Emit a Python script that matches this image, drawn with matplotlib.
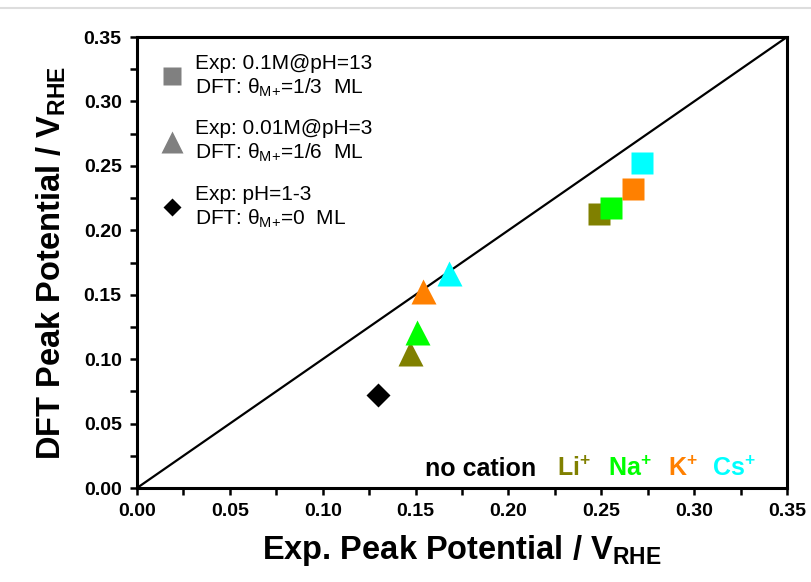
import matplotlib
matplotlib.use("Agg")
import matplotlib.pyplot as plt
from matplotlib.lines import Line2D

plt.rcParams["font.family"] = ["Liberation Sans", "DejaVu Sans"]
plt.rcParams["mathtext.fontset"] = "custom"
plt.rcParams["mathtext.rm"] = "Liberation Sans"
plt.rcParams["mathtext.bf"] = "Liberation Sans:bold"
plt.rcParams["mathtext.it"] = "Liberation Sans:italic"

# data
cations = ["Li", "Na", "K", "Cs"]
cation_colors = ["#808000", "#00ff00", "#ff8000", "#00ffff"]
sq_exp = [0.249, 0.255, 0.267, 0.272]   # 0.1M @ pH=13, theta=1/3 ML
sq_dft = [0.213, 0.217, 0.232, 0.252]
tri_exp = [0.147, 0.151, 0.154, 0.168]  # 0.01M @ pH=3, theta=1/6 ML
tri_dft = [0.105, 0.121, 0.153, 0.167]
none_exp = [0.130]                      # no cation, pH=1-3
none_dft = [0.072]

fig = plt.figure(figsize=(8.12, 5.82), dpi=100)
ax = fig.add_axes([0.1687, 0.1615, 0.8005, 0.7749])

ax.plot([0, 0.35], [0, 0.35], color="black", lw=1.6, zorder=1)

for x, y, c in zip(sq_exp, sq_dft, cation_colors):
    ax.plot(x, y, "s", ms=16, color=c, mec="none", zorder=3)
for x, y, c in zip(tri_exp, tri_dft, cation_colors):
    ax.plot(x, y, "^", ms=18, color=c, mec="none", zorder=3)
ax.plot(none_exp, none_dft, "D", ms=12, color="black", mec="none", zorder=3)

ax.set_xlim(0, 0.35); ax.set_ylim(0, 0.35)
ax.set_xticks([i * 0.05 for i in range(8)])
ax.set_yticks([i * 0.05 for i in range(8)])
ax.set_xticks([0.025 + i * 0.05 for i in range(7)], minor=True)
ax.set_yticks([0.025 + i * 0.05 for i in range(7)], minor=True)
ax.xaxis.set_major_formatter(lambda v, p: f"{v:.2f}")
ax.yaxis.set_major_formatter(lambda v, p: f"{v:.2f}")
ax.tick_params(which="both", direction="out", width=1.8, length=5)
ax.tick_params(which="major", labelsize=14, pad=6)
for lab in ax.get_xticklabels() + ax.get_yticklabels():
    lab.set_fontweight("bold")
for s in ax.spines.values():
    s.set_linewidth(2.2)

ax.set_xlabel(r"Exp. Peak Potential / V$_{\mathbf{RHE}}$", fontsize=23.5,
              fontweight="bold", labelpad=9)
ax.set_ylabel(r"DFT Peak Potential / V$_{\mathbf{RHE}}$", fontsize=23.5,
              fontweight="bold", labelpad=11)

handles = [
    Line2D([], [], ls="none", marker="s", ms=13, color="#808080", mec="none"),
    Line2D([], [], ls="none", marker="^", ms=16, color="#808080", mec="none"),
    Line2D([], [], ls="none", marker="D", ms=9, color="black", mec="none"),
]
labels = [
    "Exp: 0.1M@pH=13\nDFT: θ$_{\\mathregular{M{+}}}$=1/3  ML",
    "Exp: 0.01M@pH=3\nDFT: θ$_{\\mathregular{M{+}}}$=1/6  ML",
    "Exp: pH=1-3\nDFT: θ$_{\\mathregular{M{+}}}$=0  ML",
]
ax.legend(handles, labels, loc="upper left", frameon=False, fontsize=15,
          handlelength=1.0, handletextpad=0.6, labelspacing=1.0,
          borderaxespad=0.3, bbox_to_anchor=(0.015, 0.995))

ax.text(0.443, 0.027, "no cation", transform=ax.transAxes, fontsize=18,
        fontweight="bold", color="black")
for name, c, xp in zip(cations, cation_colors, [0.646, 0.725, 0.817, 0.885]):
    ax.text(xp, 0.027, name + r"$^{\mathbf{+}}$", transform=ax.transAxes,
            fontsize=18, fontweight="bold", color=c)

fig.add_artist(Line2D([0, 1], [0.986, 0.986], color="#dddddd", lw=1.5,
                      transform=fig.transFigure))

fig.savefig("out.png", dpi=100)
